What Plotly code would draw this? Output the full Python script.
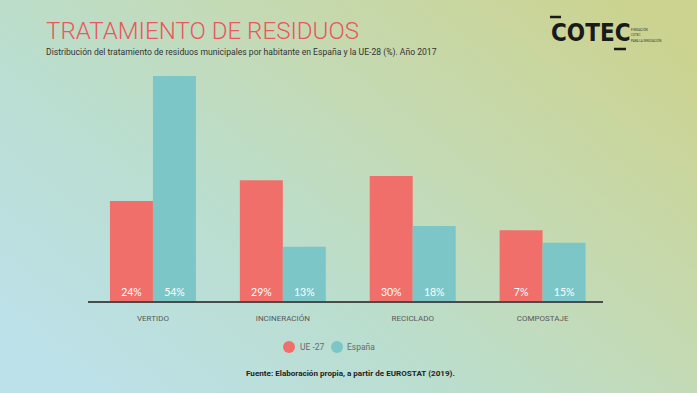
import base64
import plotly.graph_objects as go

# ---- data ----
categories = ["VERTIDO", "INCINERACIÓN", "RECICLADO", "COMPOSTAJE"]
ue27_values = [24, 29, 30, 17]
espana_values = [54, 13, 18, 14]
ue27_labels = ["24%", "29%", "30%", "7%"]
espana_labels = ["54%", "13%", "18%", "15%"]
series_names = ["UE -27", "España"]

# ---- geometry helpers (figure px -> paper coords) ----
W, H = 697, 393
L, R, T, B = 88, 603, 51, 301


def px(x):
    return (x - L) / (R - L)


def py(y):
    return (B - y) / (B - T)


RED = "#f06f6a"
TEAL = "#7cc6c8"
FONT = "Roboto, sans-serif"

fig = go.Figure()
for vals, labs, nm, col in [(ue27_values, ue27_labels, series_names[0], RED),
                            (espana_values, espana_labels, series_names[1], TEAL)]:
    fig.add_trace(go.Bar(
        x=categories, y=vals, name=nm, marker_color=col,
        marker_line_width=0, text=labs, textposition="inside",
        insidetextanchor="start", textangle=0,
        textfont=dict(color="white", size=10.5, family="Lato, sans-serif"),
        showlegend=False, hoverinfo="skip"))

svg = ('<svg xmlns="http://www.w3.org/2000/svg" width="697" height="393">'
       '<defs><linearGradient id="g" x1="0" y1="0.85" x2="1" y2="0.15">'
       '<stop offset="0" stop-color="#bde1ea"/>'
       '<stop offset="0.35" stop-color="#badecf"/>'
       '<stop offset="0.62" stop-color="#c4dab4"/>'
       '<stop offset="1" stop-color="#ccd390"/>'
       '</linearGradient></defs>'
       '<rect width="697" height="393" fill="url(#g)"/></svg>')
src = "data:image/svg+xml;base64," + base64.b64encode(svg.encode()).decode()

annotations = [
    dict(text="TRATAMIENTO DE RESIDUOS", xref="paper", yref="paper",
         x=px(44), y=py(31), xanchor="left", yanchor="middle",
         showarrow=False,
         font=dict(family=FONT, size=24.1, color="#e8585c", weight=300)),
    dict(text="Distribución del tratamiento de residuos municipales por habitante en España y la UE-28 (%). Año 2017",
         xref="paper", yref="paper", x=px(44), y=py(52), xanchor="left",
         yanchor="middle", showarrow=False,
         font=dict(family=FONT, size=8.6, color="#333333")),
    dict(text="Fuente: Elaboración propia, a partir de EUROSTAT (2019).",
         xref="paper", yref="paper", x=px(350), y=py(373),
         xanchor="center", yanchor="middle", showarrow=False,
         font=dict(family=FONT, size=8.1, color="#222222", weight="bold")),
    dict(text="COTEC", xref="paper", yref="paper", x=px(549), y=py(33),
         xanchor="left", yanchor="middle", showarrow=False,
         font=dict(family="DejaVu Sans Condensed, DejaVu Sans, sans-serif",
                   size=24, color="#1a1a1a", weight="bold")),
]
# tiny logo caption lines
for i, line in enumerate(["FUNDACIÓN", "COTEC", "PARA LA INNOVACIÓN"]):
    annotations.append(dict(text=line, xref="paper", yref="paper",
                            x=px(629), y=py(30 + 5.5 * i), xanchor="left",
                            yanchor="middle", showarrow=False,
                            font=dict(family=FONT, size=3, color="#333333")))

# legend (circle + label) built from the series names/colours
legend_pos = [(289, 298), (337, 345)]
shapes = []
for (cx, tx), nm, col in zip(legend_pos, series_names, [RED, TEAL]):
    shapes.append(dict(type="circle", xref="paper", yref="paper",
                       xsizemode="pixel", ysizemode="pixel",
                       xanchor=px(cx), yanchor=py(347),
                       x0=-6, x1=6, y0=-6, y1=6,
                       fillcolor=col, line=dict(width=0)))
    annotations.append(dict(text=nm, xref="paper", yref="paper",
                            x=px(tx), y=py(347), xanchor="left",
                            yanchor="middle", showarrow=False,
                            font=dict(family=FONT, size=8.5, color="#6a6a6a")))

shapes += [
    dict(type="line", xref="paper", yref="paper", x0=px(550), x1=px(561),
         y0=py(17), y1=py(17), line=dict(color="#1a1a1a", width=2.5)),
    dict(type="line", xref="paper", yref="paper", x0=px(614), x1=px(626),
         y0=py(49), y1=py(49), line=dict(color="#1a1a1a", width=2.5)),
]

fig.update_layout(
    width=W, height=H,
    margin=dict(l=L, r=W - R, t=T, b=H - B, pad=0),
    paper_bgcolor="#c3dcbd", plot_bgcolor="rgba(0,0,0,0)",
    barmode="group", bargap=0.338, bargroupgap=0,
    images=[dict(source=src, xref="paper", yref="paper", x=px(0), y=py(0),
                 sizex=W / (R - L), sizey=H / (B - T), xanchor="left",
                 yanchor="top", sizing="stretch", layer="below")],
    xaxis=dict(showline=True, linecolor="#4a4a4a", linewidth=1.5,
               range=[-0.5, 3.465],
               showgrid=False, zeroline=False, ticks="outside", ticklen=9,
               tickcolor="rgba(0,0,0,0)",
               tickfont=dict(family=FONT, size=8, color="#5a5a5a")),
    yaxis=dict(visible=False, range=[0, 60]),
    showlegend=False,
    annotations=annotations,
    shapes=shapes,
)

fig.write_html("out.html", config={"displayModeBar": False},
               post_script="document.body.style.margin='0';"
                           "document.body.style.overflow='hidden';")
